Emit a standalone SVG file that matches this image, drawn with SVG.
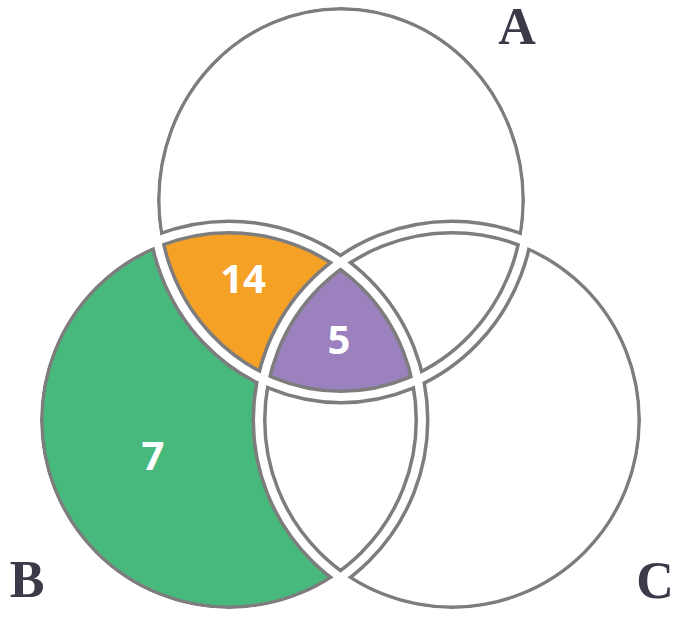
<svg xmlns="http://www.w3.org/2000/svg" width="680" height="620" viewBox="0 0 680 620">
<style>
.band{fill:none;stroke:#7d7d7d;stroke-width:15}
.gap{fill:none;stroke:#ffffff;stroke-width:8}
.num{font-family:"Open Sans","Liberation Sans",sans-serif;font-weight:bold;font-size:40px;fill:#ffffff;text-anchor:middle}
.set{font-family:"Liberation Serif","DejaVu Serif",serif;font-weight:bold;font-size:52px;fill:#3a3a48;text-anchor:middle}
</style>
<defs>
<ellipse id="shA" cx="341" cy="200" rx="188" ry="197"/>
<circle id="shB" cx="229" cy="420" r="193"/>
<circle id="shC" cx="452" cy="420" r="193"/>
<clipPath id="clipB"><circle cx="229" cy="420" r="193"/></clipPath>
<clipPath id="clipC"><circle cx="452" cy="420" r="193"/></clipPath>
<mask id="outer" maskUnits="userSpaceOnUse" x="0" y="0" width="680" height="620">
<ellipse cx="341" cy="200" rx="184" ry="193" fill="#fff"/>
<circle cx="229" cy="420" r="189" fill="#fff"/>
<circle cx="452" cy="420" r="189" fill="#fff"/>
</mask>
</defs>
<rect width="680" height="620" fill="#ffffff"/>
<g mask="url(#outer)">
<g id="regions">
<use href="#shB" fill="#48b97d"/>
<use href="#shC" fill="#ffffff" clip-path="url(#clipB)"/>
<use href="#shA" fill="#f5a126" clip-path="url(#clipB)"/>
<g clip-path="url(#clipB)"><use href="#shA" fill="#9b81be" clip-path="url(#clipC)"/></g>
</g>
<g id="setA"><use href="#shA" class="band"/></g>
<g id="setB"><use href="#shB" class="band"/></g>
<g id="setC"><use href="#shC" class="band"/></g>
<g id="connectors">
<use href="#shA" class="gap"/>
<use href="#shB" class="gap"/>
<use href="#shC" class="gap"/>
</g>
</g>
<g id="labels">
<text class="num" x="243" y="293">14</text>
<text class="num" x="339" y="354">5</text>
<text class="num" x="153" y="470">7</text>
<text class="set" x="517" y="44">A</text>
<text class="set" x="27" y="597">B</text>
<text class="set" x="655" y="598">C</text>
</g>
</svg>
